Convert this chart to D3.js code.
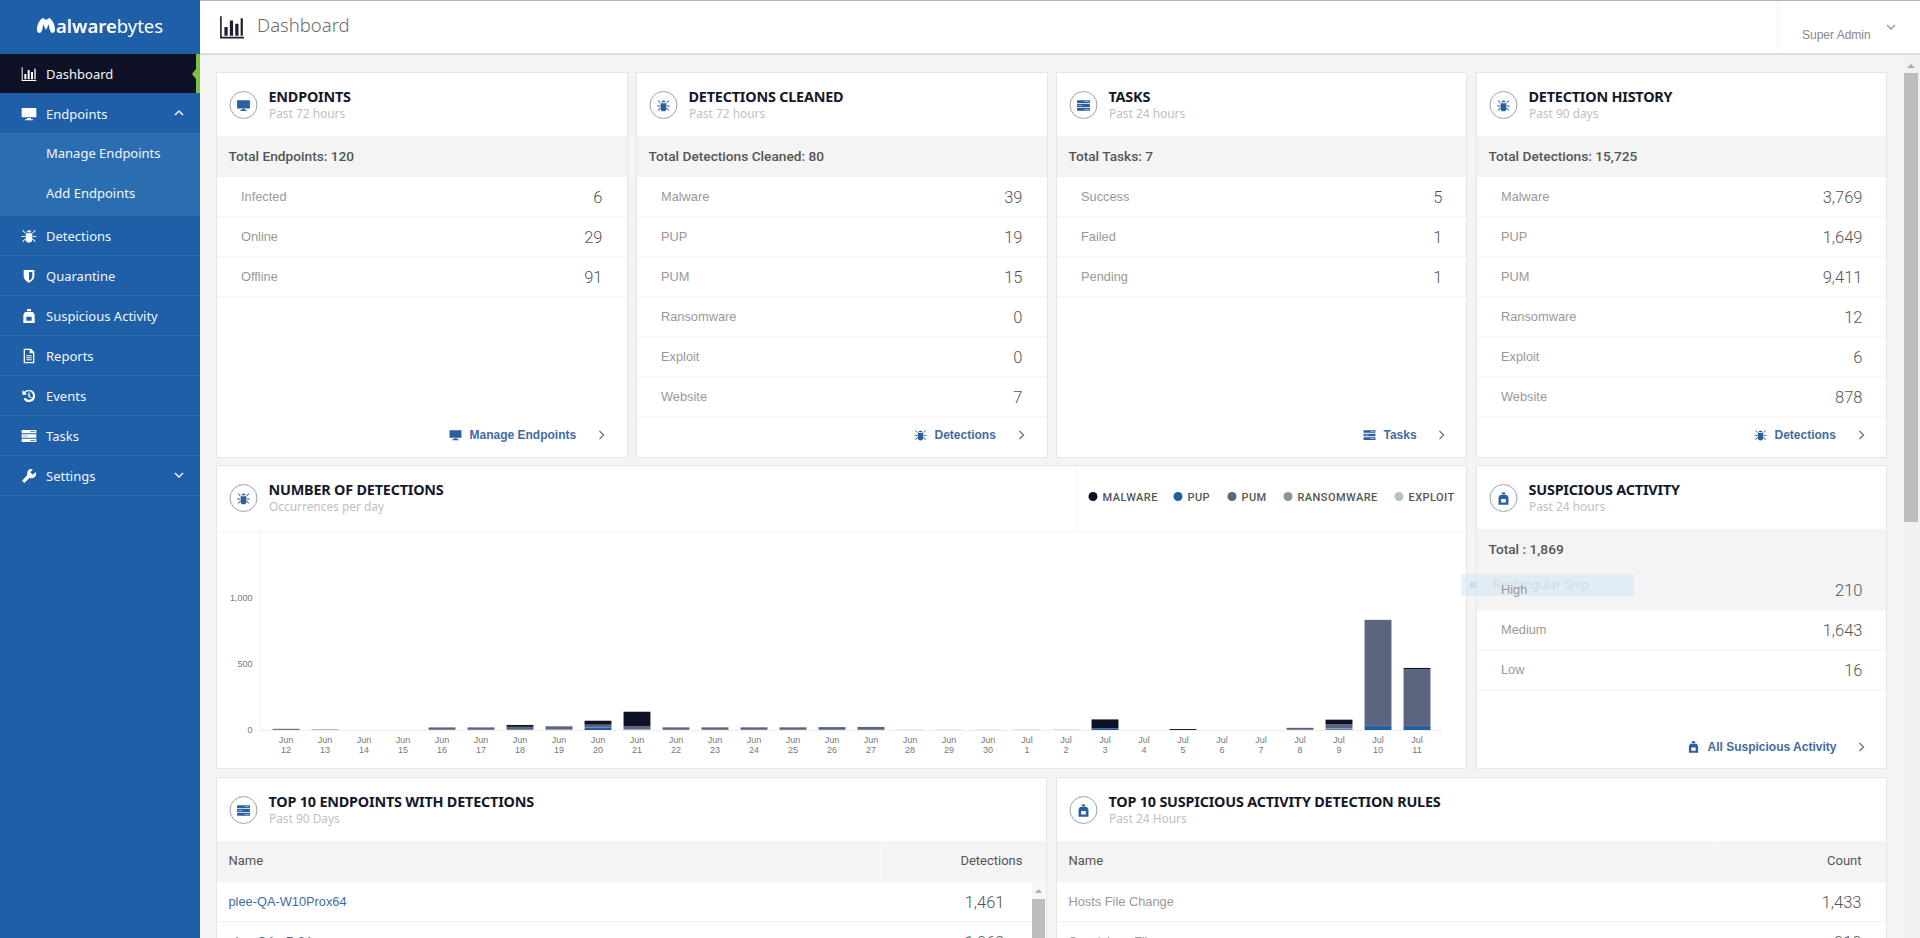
<!DOCTYPE html>
<html>
<head>
<meta charset="utf-8">
<title>Dashboard</title>
<script src="https://cdn.jsdelivr.net/npm/d3@7"></script>
<style>
  html, body { margin: 0; padding: 0; overflow: hidden; background: #f4f4f4; }
  svg { display: block; }
  text { font-family: "Liberation Sans", Arial, sans-serif; }
  .side { font-family: "Noto Sans", sans-serif; font-size: 13px; fill: #f2f6fb; }
  .title { font-family: "Noto Sans", sans-serif; font-size: 14.4px; font-weight: 700; fill: #15182b; letter-spacing: -0.2px; }
  .sub { font-family: "Noto Sans", sans-serif; font-size: 11.9px; fill: #bcbfc3; }
  .band { font-family: Roboto, sans-serif; font-size: 13.7px; font-weight: 500; fill: #555; }
  .head { font-family: Roboto, sans-serif; font-size: 13px; font-weight: 400; fill: #555; }
  .label { font-size: 12.8px; fill: #999; }
  .value { font-family: Roboto, sans-serif; font-weight: 300; font-size: 16.5px; fill: #555; text-anchor: end; }
  .link { font-size: 12px; font-weight: 700; fill: #3f6c9f; }
  .axis text { font-family: "Liberation Sans", sans-serif; font-size: 9px; fill: #777; }
  .axis path, .axis line { stroke: #eeeeee; }
  .legend { font-family: Roboto, sans-serif; font-weight: 500; font-size: 11px; letter-spacing: 0.45px; fill: #555; }
</style>
</head>
<body>
<div id="vis"></div>
<script>
// chart data, Jun 12 to Jul 11
const MONTHS = ["Jun","Jun","Jun","Jun","Jun","Jun","Jun","Jun","Jun","Jun","Jun","Jun","Jun","Jun","Jun","Jun","Jun","Jun","Jun","Jul","Jul","Jul","Jul","Jul","Jul","Jul","Jul","Jul","Jul","Jul"];
const DAYS = [12,13,14,15,16,17,18,19,20,21,22,23,24,25,26,27,28,29,30,1,2,3,4,5,6,7,8,9,10,11];
const MALWARE = [0,0,0,0,2,2,14,3,30,110,1,1,1,1,1,1,0,0,0,0,0,65,0,7,0,0,1,35,3,10];
const PUP = [0,0,0,0,0,0,0,0,20,2,0,0,0,0,0,0,0,0,0,0,0,14,0,0,0,0,0,6,30,30];
const PUM = [8,3,0,0,15,15,22,20,18,22,17,17,17,17,19,20,1,1,1,1,1,1,0,0,0,0,13,30,798,428];
const RANSOMWARE = [1,1,0,0,2,2,2,3,2,3,2,2,2,2,2,2,0,0,0,1,1,0,0,0,0,0,2,6,1,1];
const EXPLOIT = [0,0,0,0,0,0,0,1,0,1,0,0,0,0,0,0,0,0,0,0,0,0,0,0,0,0,0,1,0,0];
const SERIES_NAMES = ["MALWARE","PUP","PUM","RANSOMWARE","EXPLOIT"];
const Y_TICKS = [0,500,1000];

// card contents
const ENDPOINT_LABELS = ["Infected","Online","Offline"];
const ENDPOINT_VALUES = ["6","29","91"];
const CLEANED_LABELS = ["Malware","PUP","PUM","Ransomware","Exploit","Website"];
const CLEANED_VALUES = ["39","19","15","0","0","7"];
const TASK_LABELS = ["Success","Failed","Pending"];
const TASK_VALUES = ["5","1","1"];
const HISTORY_LABELS = ["Malware","PUP","PUM","Ransomware","Exploit","Website"];
const HISTORY_VALUES = ["3,769","1,649","9,411","12","6","878"];
const SUSPICIOUS_LABELS = ["High","Medium","Low"];
const SUSPICIOUS_VALUES = ["210","1,643","16"];
const TOP_ENDPOINT_NAMES = ["plee-QA-W10Prox64","plee-QA-x7-64"];
const TOP_ENDPOINT_VALUES = ["1,461","1,069"];
const TOP_RULE_NAMES = ["Hosts File Change","Suspicious File"];
const TOP_RULE_VALUES = ["1,433","210"];
const MENU_ITEMS = ["Dashboard","Endpoints","Manage Endpoints","Add Endpoints","Detections","Quarantine","Suspicious Activity","Reports","Events","Tasks","Settings"];

const WIDTH = 1920, HEIGHT = 938;
const BLUE = "#1e5fa8", NAVY = "#0f1226", ICON = "#2c5f9e";

const COLORS = {MALWARE:"#0f1226", PUP:"#1f5fa6", PUM:"#5a6580", RANSOMWARE:"#8a949f", EXPLOIT:"#b5c0c9"};

const ICONS = {
  chart: "M1 2h1.5v19H23v1.5H1z M5 12h3v8H5z M10 6h3v14h-3z M15 9h3v11h-3z M20 4h2v16h-2z",
  monitor: "M1 3h22v14H1z M9 18h6v2h3v1.5H6V20h3z",
  bug: "M8.5 6.5a3.5 3 0 0 1 7 0z M7 8h10v9a5 5 0 0 1-10 0z M2 4l1-1 4 4-1 1z M22 4l-1-1-4 4 1 1z M1 12h5v1.6H1z M18 12h5v1.6h-5z M3 21l-1-1 4-4 1 1z M21 21l1-1-4-4-1 1z",
  tasks: "M1 3h22v5H1z M14 5h7v1h-7z M1 9.5h22v5H1z M3 11.5h7v1H3z M1 16h22v5H1z M14 18h7v1h-7z",
  bag: "M9 1.5h6V5H9z M6 6h12l2.5 4v12.5h-17V10z M8 13h8v6H8z",
  shield: "M4 3h16v9c0 5-4 8-8 10-4-2-8-5-8-10z M12 6v13c3-1 5-4 5-7V6z",
  report: "M4 1h11l5 5v17H4z M6 3v18h12V8h-5V3z M8 11h8v1.5H8z M8 14h8v1.5H8z M8 17h8v1.5H8z",
  events: "M12 3a9 9 0 1 1-8 13l2.5-1.2A6.3 6.3 0 1 0 6.6 7.6L9 10H2V3l2.6 2.6A9 9 0 0 1 12 3z M11 7h2v5l3 2-1 1.5-4-2.5z",
  wrench: "M22 6l-4.5 4-3.5-3.5 4-4.5a6.5 6.5 0 0 0-8.5 8.5L1.5 19l3.5 3.5 8-8a6.5 6.5 0 0 0 9-8.5z"
};

const SVG = d3.select("#vis").append("svg")
  .attr("width", WIDTH)
  .attr("height", HEIGHT)
  .attr("viewBox", "0 0 " + WIDTH + " " + HEIGHT);

function rect(parent, x, y, w, h, fill) {
  return parent.append("rect").attr("x", x).attr("y", y).attr("width", w).attr("height", h).attr("fill", fill);
}
function hline(parent, x1, x2, y, color) {
  parent.append("line").attr("x1", x1).attr("x2", x2).attr("y1", y).attr("y2", y).attr("stroke", color);
}
function vline(parent, x, y1, y2, color) {
  parent.append("line").attr("x1", x).attr("x2", x).attr("y1", y1).attr("y2", y2).attr("stroke", color);
}
function icon(parent, name, cx, cy, size, color) {
  const s = size / 24;
  parent.append("path")
    .attr("d", ICONS[name])
    .attr("fill", color)
    .attr("fill-rule", "evenodd")
    .attr("transform", "translate(" + (cx - size / 2) + "," + (cy - size / 2) + ") scale(" + s + ")");
}
function chevron(parent, cx, cy, dir, color) {
  const pts = {
    up: [[-4,2],[0,-2],[4,2]],
    down: [[-4,-2],[0,2],[4,-2]],
    right: [[-2,-4],[2,0],[-2,4]]
  }[dir];
  parent.append("path")
    .attr("d", d3.line()(pts.map((p) => [p[0] + cx, p[1] + cy])))
    .attr("fill", "none")
    .attr("stroke", color)
    .attr("stroke-width", 1.4);
}

// ---- header
rect(SVG, 200, 0, WIDTH - 200, 53, "#ffffff");
rect(SVG, 200, 0, WIDTH - 200, 1, "#b5b5b5");
rect(SVG, 200, 53, WIDTH - 200, 2, "#dddddd");
icon(SVG, "chart", 232, 27, 26, "#1b2030");
SVG.append("text").attr("x", 257).attr("y", 32)
  .style("font-family", "'Noto Sans', sans-serif").style("font-size", "18.5px").style("font-weight", 300)
  .attr("fill", "#6c6c6c").text("Dashboard");
vline(SVG, 1777.5, 1, 50, "#f2f2f2");
SVG.append("text").attr("x", 1802).attr("y", 39).style("font-size", "12px").attr("fill", "#888").text("Super Admin");
chevron(SVG, 1891, 27, "down", "#999");

// ---- sidebar
rect(SVG, 0, 0, 200, HEIGHT, BLUE);
SVG.append("path")
  .attr("d", "M37 30C37 24 40 19 43 18l3 2 3-2c3 1 6 6 6 12 0 2-1 3-3 3-2-1-3-5-3-9l-3 6-3-6c0 4-1 8-3 9-2 0-3-1-3-3z")
  .attr("fill", "#ffffff");
const LOGO = SVG.append("text").attr("x", 56).attr("y", 33)
  .style("font-family", "'Noto Sans', sans-serif").style("font-size", "18.5px").attr("fill", "#ffffff");
LOGO.append("tspan").style("font-weight", 600).text("alware");
LOGO.append("tspan").style("font-weight", 400).text("bytes");

rect(SVG, 0, 133, 200, 83, "#2a6eb1");
rect(SVG, 0, 54, 200, 39, NAVY);
rect(SVG, 196, 54, 4, 39, "#7cc142");
SVG.append("path").attr("d", "M196 69l-4 5 4 5z").attr("fill", "#7cc142");
[256, 296, 336, 376, 416, 456, 496].forEach((y) => hline(SVG, 0, 200, y - 0.5, "#2f6db0"));

const MENU_Y = [74, 114, 153, 193, 236, 276, 316, 356, 396, 436, 476];
const MENU_ICONS = ["chart","monitor",null,null,"bug","shield","bag","report","events","tasks","wrench"];
SVG.selectAll(".side")
  .data(MENU_ITEMS)
  .enter()
  .append("text")
    .attr("class", "side")
    .attr("x", 46)
    .attr("y", (d, i) => MENU_Y[i] + 5)
    .text((d) => d);
MENU_ICONS.forEach((name, i) => {
  if (name) { icon(SVG, name, 29, MENU_Y[i], 16, "#ffffff"); }
});
chevron(SVG, 179, 113, "up", "#ffffff");
chevron(SVG, 179, 475, "down", "#ffffff");

// ---- cards
function card(x, y, w, h, iconName, title, sub) {
  const g = SVG.append("g");
  rect(g, x, y, w, h, "#ffffff").attr("stroke", "#e6e6e6");
  g.append("circle").attr("cx", x + 27).attr("cy", y + 32.5).attr("r", 13.5)
    .attr("fill", "#ffffff").attr("stroke", "#9aa3ad");
  icon(g, iconName, x + 27, y + 33, 14, ICON);
  g.append("text").attr("class", "title").attr("x", x + 52).attr("y", y + 29).text(title);
  g.append("text").attr("class", "sub").attr("x", x + 52.5).attr("y", y + 45.5).text(sub);
  return g;
}
function statCard(x, y, w, h, iconName, title, sub, total, labels, values) {
  const g = card(x, y, w, h, iconName, title, sub);
  rect(g, x + 0.5, y + 63.5, w - 1, 41, "#f4f4f4");
  g.append("text").attr("class", "band").attr("x", x + 12).attr("y", y + 88.5).text(total);
  labels.forEach((label, i) => {
    const cy = y + 124.5 + i * 40;
    hline(g, x, x + w, cy + 20, "#f0f0f0");
    g.append("text").attr("class", "label").attr("x", x + 24.5).attr("y", cy + 3.5).text(label);
    g.append("text").attr("class", "value").attr("x", x + 386).attr("y", cy + 5.5).text(values[i]);
  });
  return g;
}
function cardLink(g, x, y, iconName, text, startX) {
  icon(g, iconName, x + startX - 14, y, 13, ICON);
  g.append("text").attr("class", "link").attr("x", x + startX).attr("y", y + 4).text(text);
  chevron(g, x + 385, y, "right", "#777");
}

const C1 = statCard(216.5, 72.5, 411, 385, "monitor", "ENDPOINTS", "Past 72 hours", "Total Endpoints: 120", ENDPOINT_LABELS, ENDPOINT_VALUES);
cardLink(C1, 216.5, 435, "monitor", "Manage Endpoints", 253);
const C2 = statCard(636.5, 72.5, 411, 385, "bug", "DETECTIONS CLEANED", "Past 72 hours", "Total Detections Cleaned: 80", CLEANED_LABELS, CLEANED_VALUES);
cardLink(C2, 636.5, 435, "bug", "Detections", 298);
const C3 = statCard(1056.5, 72.5, 410, 385, "tasks", "TASKS", "Past 24 hours", "Total Tasks: 7", TASK_LABELS, TASK_VALUES);
cardLink(C3, 1056.5, 435, "tasks", "Tasks", 327);
const C4 = statCard(1476.5, 72.5, 410, 385, "bug", "DETECTION HISTORY", "Past 90 days", "Total Detections: 15,725", HISTORY_LABELS, HISTORY_VALUES);
cardLink(C4, 1476.5, 435, "bug", "Detections", 298);

const C6 = statCard(1476.5, 465.5, 410, 303, "bag", "SUSPICIOUS ACTIVITY", "Past 24 hours", "Total : 1,869", SUSPICIOUS_LABELS, SUSPICIOUS_VALUES);
cardLink(C6, 1476.5, 747, "bag", "All Suspicious Activity", 231);
// the High row is hovered in the screenshot
C6.insert("rect", ".label").attr("x", 1477).attr("y", 570).attr("width", 409).attr("height", 39.5).attr("fill", "#f4f4f4");

// ---- detections chart card
const C5 = card(216.5, 465.5, 1250, 303, "bug", "NUMBER OF DETECTIONS", "Occurrences per day");
hline(C5, 217, 1466, 531.5, "#f4f4f4");
vline(C5, 1076.5, 466, 531, "#f4f4f4");

const LEGEND_X = [1093, 1178, 1232, 1288, 1399];
const LEGEND = C5.selectAll(".legend-item")
  .data(SERIES_NAMES)
  .enter()
  .append("g")
    .attr("class", "legend-item")
    .attr("transform", (d, i) => "translate(" + LEGEND_X[i] + ",496.5)");
LEGEND.append("circle").attr("r", 4.5).attr("fill", (d) => COLORS[d]);
LEGEND.append("text").attr("class", "legend").attr("x", 9.5).attr("y", 4).text((d) => d);

// scales
const X_SCALE = d3.scaleBand()
  .domain(DAYS.map((d, i) => i))
  .range([266.5, 1436.5])
  .paddingInner(0.31)
  .paddingOuter(0.155);
const Y_SCALE = d3.scaleLinear()
  .domain([0, 1500])
  .range([730, 531.5]);

// stacked bars, pup at the bottom and malware on top
const STACK_KEYS = ["PUP","EXPLOIT","RANSOMWARE","PUM","MALWARE"];
const SERIES_VALUES = {MALWARE:MALWARE, PUP:PUP, PUM:PUM, RANSOMWARE:RANSOMWARE, EXPLOIT:EXPLOIT};
const ROWS = DAYS.map((d, i) => {
  const row = {};
  STACK_KEYS.forEach((k) => { row[k] = SERIES_VALUES[k][i]; });
  return row;
});
const STACKED = d3.stack().keys(STACK_KEYS)(ROWS);

C5.selectAll(".series")
  .data(STACKED)
  .enter()
  .append("g")
    .attr("class", "series")
    .attr("fill", (d) => COLORS[d.key])
  .selectAll("rect")
  .data((d) => d)
  .enter()
  .append("rect")
    .attr("x", (d, i) => X_SCALE(i))
    .attr("y", (d) => Y_SCALE(d[1]))
    .attr("width", X_SCALE.bandwidth())
    .attr("height", (d) => Y_SCALE(d[0]) - Y_SCALE(d[1]));

// axes
C5.append("g")
  .attr("class", "axis")
  .attr("transform", "translate(259.5,0)")
  .call(d3.axisLeft(Y_SCALE).tickValues(Y_TICKS).tickSize(0).tickPadding(7).tickFormat(d3.format(",")));

const X_AXIS = C5.append("g")
  .attr("class", "axis")
  .attr("transform", "translate(0,730.5)")
  .call(d3.axisBottom(X_SCALE).tickSize(0).tickSizeOuter(0).tickPadding(0).tickFormat(""));
X_AXIS.select("path").attr("d", "M260,0H1442");
X_AXIS.selectAll(".tick text").each(function(d) {
  const t = d3.select(this).attr("y", 12).attr("dy", null);
  t.append("tspan").attr("x", 0).text(MONTHS[d]);
  t.append("tspan").attr("x", 0).attr("dy", 10).text(DAYS[d]);
});

// ---- top 10 cards, cut off by the window
const C7 = card(216.5, 777.5, 830, 200, "tasks", "TOP 10 ENDPOINTS WITH DETECTIONS", "Past 90 Days");
const C8 = card(1056.5, 777.5, 830, 200, "bag", "TOP 10 SUSPICIOUS ACTIVITY DETECTION RULES", "Past 24 Hours");

function tableCard(g, x, head2, end2, divider, names, values, valueEnd, linked) {
  rect(g, x + 0.5, 841, 829, 41, "#f4f4f4");
  vline(g, divider, 841, 882, "#fbfbfb");
  g.append("text").attr("class", "head").attr("x", x + 12).attr("y", 865).text("Name");
  g.append("text").attr("class", "head").attr("x", end2).attr("y", 865).attr("text-anchor", "end").text(head2);
  names.forEach((name, i) => {
    const cy = 901.5 + i * 40;
    hline(g, x, x + 830, cy + 20, "#f0f0f0");
    g.append("text").attr("class", "label").attr("x", x + 12).attr("y", cy + 4)
      .style("fill", linked ? "#3f6c9f" : null)
      .text(name);
    g.append("text").attr("class", "value").attr("x", valueEnd).attr("y", cy + 6).text(values[i]);
  });
}
tableCard(C7, 216.5, "Detections", 1022.5, 881, TOP_ENDPOINT_NAMES, TOP_ENDPOINT_VALUES, 1004.5, true);
tableCard(C8, 1056.5, "Count", 1861.5, 1718, TOP_RULE_NAMES, TOP_RULE_VALUES, 1861.5, false);

// inner scrollbar of the endpoints table
rect(SVG, 1032, 882, 13, 56, "#f6f6f6");
rect(SVG, 1032, 899, 13, 39, "#bdbdbd");
SVG.append("path").attr("d", "M1035 893l3.5-4 3.5 4z").attr("fill", "#b0b0b0");

// page scrollbar
rect(SVG, 1904, 55, 16, HEIGHT - 55, "#f1f1f1");
rect(SVG, 1904, 73, 14, 449, "#bdbdbd");
SVG.append("path").attr("d", "M1907 68l4-4 4 4z").attr("fill", "#a8a8a8");

// selection left on the screen by the snipping tool
rect(SVG, 1461, 574, 173, 22, "#cfe4f6").attr("opacity", 0.5);
rect(SVG, 1470, 582, 6, 6, "#bcd6ee").attr("opacity", 0.7);
SVG.append("text").attr("x", 1493).attr("y", 589).style("font-size", "12px")
  .style("font-family", "'Noto Sans', sans-serif").attr("fill", "#d3dbe2").text("Rectangular Snip");
// keep the suspicious rows above the snip selection
C6.selectAll(".label,.value").each(function() { SVG.node().appendChild(this); });
</script>
</body>
</html>
